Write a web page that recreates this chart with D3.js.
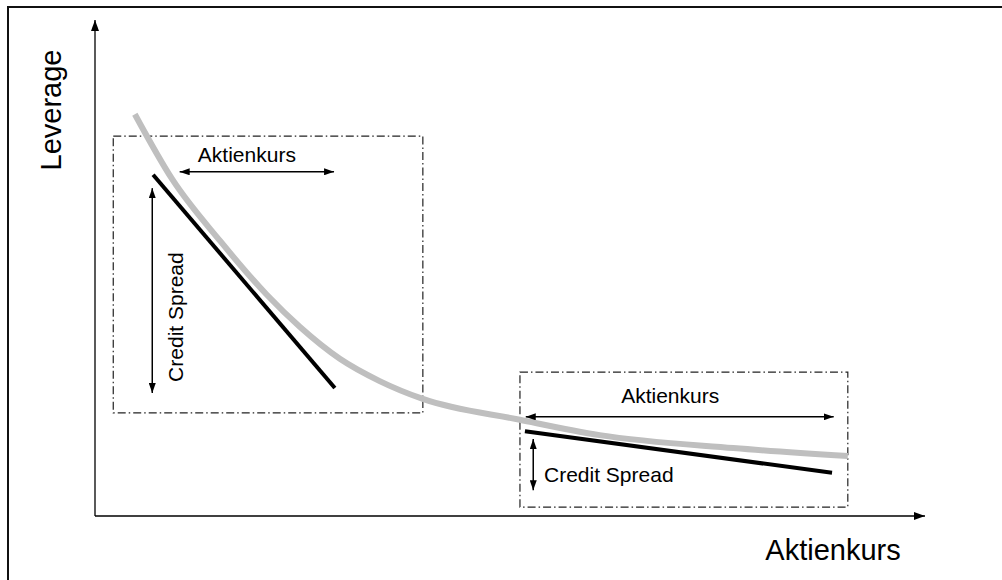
<!DOCTYPE html>
<html lang="de">
<head>
    <meta charset="UTF-8">
    <title>Leverage vs Aktienkurs</title>
    <script src="https://d3js.org/d3.v7.min.js"></script>
    <style>
        body { margin: 0; background: #fff; }
        text { font-family: "Liberation Sans", Arial, Helvetica, sans-serif; fill: #000; }
    </style>
</head>
<body>
    <svg width="1002" height="580"></svg>

    <script>
        // Leverage curve (grey) in axis units 0..10
        const curveX = [0.48, 0.93, 1.51, 2.07, 2.47, 2.95, 3.43, 3.95, 5.12, 6.08, 7.69, 9.07];
        const curveY = [8.10, 6.79, 5.54, 4.46, 3.81, 3.17, 2.72, 2.36, 1.94, 1.63, 1.37, 1.21];

        // tangent lines (black)
        const tangentLeft = [[0.70, 6.88], [2.89, 2.58]];
        const tangentRight = [[5.18, 1.71], [8.88, 0.87]];

        // dash-dot boxes: [x0, x1, y0, y1]
        const boxes = [[0.22, 3.95, 2.08, 7.66], [5.12, 9.07, 0.18, 2.90]];

        // double arrows
        const arrowsH = [[1.02, 2.88, 6.94], [5.19, 8.90, 2.00]];   // x0, x1, y
        const arrowsV = [[0.69, 2.48, 6.61], [5.28, 0.52, 1.55]];   // x, y0, y1

        const labels = ["Aktienkurs", "Credit Spread"];

        const svg = d3.select("svg");

        const x = d3.scaleLinear().domain([0, 10]).range([95, 925]);
        const y = d3.scaleLinear().domain([0, 10]).range([516, 20]);

        // outer frame
        svg.append("rect")
           .attr("x", 8).attr("y", 7)
           .attr("width", 1010).attr("height", 600)
           .attr("fill", "none")
           .attr("stroke", "#111")
           .attr("stroke-width", 2);

        // arrow heads
        const defs = svg.append("defs");
        function head(id, w, h) {
            defs.append("marker")
                .attr("id", id)
                .attr("viewBox", `0 0 ${w} ${h}`)
                .attr("refX", w).attr("refY", h / 2)
                .attr("markerWidth", w).attr("markerHeight", h)
                .attr("markerUnits", "userSpaceOnUse")
                .attr("orient", "auto-start-reverse")
                .append("path")
                .attr("d", `M0,0L${w},${h / 2}L0,${h}Z`)
                .attr("fill", "#000");
        }
        head("ax", 11, 8);
        head("ar", 10, 7);

        // axes
        svg.append("line")
           .attr("x1", x(0)).attr("y1", y(0))
           .attr("x2", x(0)).attr("y2", y(10))
           .attr("stroke", "#000").attr("stroke-width", 1.3)
           .attr("marker-end", "url(#ax)");

        svg.append("line")
           .attr("x1", x(0)).attr("y1", y(0))
           .attr("x2", x(10)).attr("y2", y(0))
           .attr("stroke", "#000").attr("stroke-width", 1.3)
           .attr("marker-end", "url(#ax)");

        // axis titles
        svg.append("text")
           .attr("transform", "translate(61,110) rotate(-90)")
           .attr("text-anchor", "middle")
           .style("font-size", "29px")
           .text("Leverage");

        svg.append("text")
           .attr("x", 833).attr("y", 560)
           .attr("text-anchor", "middle")
           .style("font-size", "29px")
           .text("Aktienkurs");

        // dash-dot boxes
        svg.selectAll(".box")
           .data(boxes)
           .enter()
           .append("rect")
           .attr("class", "box")
           .attr("x", d => x(d[0]))
           .attr("y", d => y(d[3]))
           .attr("width", d => x(d[1]) - x(d[0]))
           .attr("height", d => y(d[2]) - y(d[3]))
           .attr("fill", "none")
           .attr("stroke", "#222")
           .attr("stroke-width", 1.2)
           .attr("stroke-dasharray", "8,3,1.5,3");

        // grey leverage curve
        const pts = curveX.map((v, i) => [v, curveY[i]]);
        const line = d3.line()
                       .x(d => x(d[0]))
                       .y(d => y(d[1]))
                       .curve(d3.curveMonotoneX);

        svg.append("path")
           .datum(pts)
           .attr("d", line)
           .attr("fill", "none")
           .attr("stroke", "#bfbfbf")
           .attr("stroke-width", 6);

        // black tangents
        const straight = d3.line().x(d => x(d[0])).y(d => y(d[1]));
        svg.selectAll(".tangent")
           .data([tangentLeft, tangentRight])
           .enter()
           .append("path")
           .attr("class", "tangent")
           .attr("d", straight)
           .attr("fill", "none")
           .attr("stroke", "#000")
           .attr("stroke-width", 4);

        // double arrows
        svg.selectAll(".arrH")
           .data(arrowsH)
           .enter()
           .append("line")
           .attr("x1", d => x(d[0])).attr("x2", d => x(d[1]))
           .attr("y1", d => y(d[2])).attr("y2", d => y(d[2]))
           .attr("stroke", "#000").attr("stroke-width", 1.5)
           .attr("marker-start", "url(#ar)")
           .attr("marker-end", "url(#ar)");

        svg.selectAll(".arrV")
           .data(arrowsV)
           .enter()
           .append("line")
           .attr("x1", d => x(d[0])).attr("x2", d => x(d[0]))
           .attr("y1", d => y(d[1])).attr("y2", d => y(d[2]))
           .attr("stroke", "#000").attr("stroke-width", 1.5)
           .attr("marker-start", "url(#ar)")
           .attr("marker-end", "url(#ar)");

        // annotation texts
        svg.append("text")
           .attr("x", x(1.83)).attr("y", y(7.14))
           .attr("text-anchor", "middle")
           .style("font-size", "21px")
           .text(labels[0]);

        svg.append("text")
           .attr("transform", `translate(${x(1.06)},${y(4.01)}) rotate(-90)`)
           .attr("text-anchor", "middle")
           .style("font-size", "21px")
           .text(labels[1]);

        svg.append("text")
           .attr("x", x(6.93)).attr("y", y(2.28))
           .attr("text-anchor", "middle")
           .style("font-size", "21px")
           .text(labels[0]);

        svg.append("text")
           .attr("x", x(5.41)).attr("y", y(0.69))
           .style("font-size", "21px")
           .text(labels[1]);
    </script>
</body>
</html>
